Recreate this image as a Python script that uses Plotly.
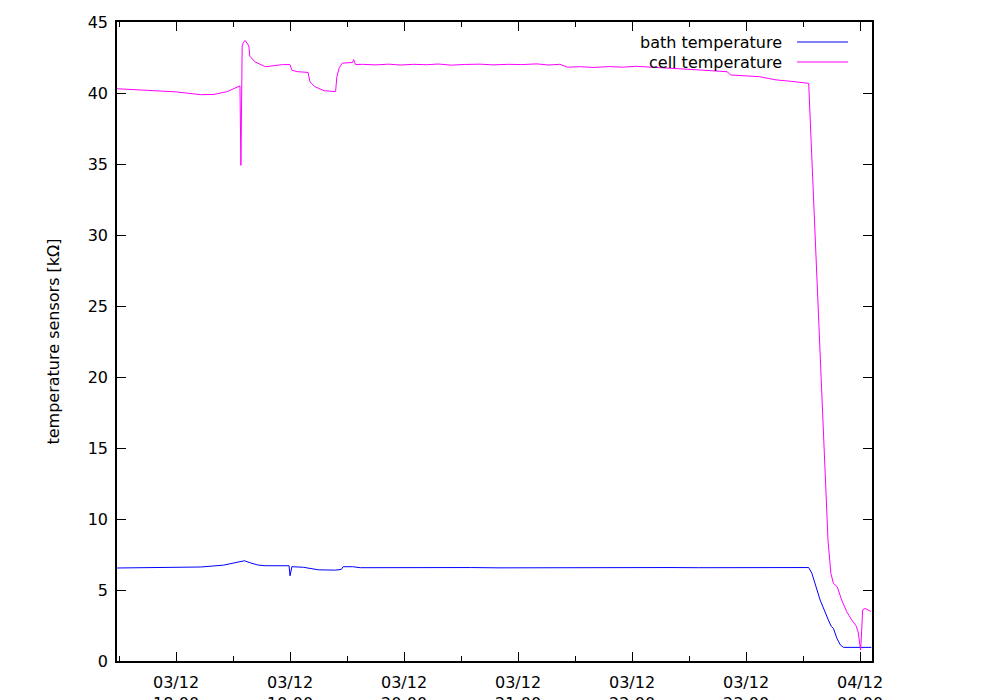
import pandas as pd
import plotly.graph_objects as go

# readings, 03/12 evening -> 04/12 just after midnight
DAY = "2012-12-03 "
NEXT = "2012-12-04 "

cell_time = [
    "17:29:00", "17:45:00", "18:00:00", "18:13:00", "18:20:00", "18:27:00",
    "18:33:00", "18:33:40", "18:34:10", "18:34:50", "18:35:30", "18:36:20",
    "18:37:40", "18:38:20", "18:38:50", "18:41:30", "18:47:00", "18:52:00",
    "18:56:00", "19:00:00", "19:01:00", "19:04:00", "19:07:00", "19:09:30",
    "19:10:30", "19:13:00", "19:18:00", "19:24:00", "19:24:40", "19:26:00",
    "19:27:30", "19:33:00", "19:33:30", "19:34:30", "19:38:00", "19:45:00",
    "19:52:00", "19:58:00", "20:05:00", "20:12:00", "20:18:00", "20:25:00",
    "20:32:00", "20:40:00", "20:47:00", "20:55:00", "21:02:00", "21:10:00",
    "21:16:00", "21:22:00", "21:26:00", "21:33:00", "21:40:00", "21:48:00",
    "21:55:00", "22:02:00", "22:06:00", "22:14:00", "22:22:00", "22:29:00",
    "22:36:00", "22:44:00", "22:50:00", "22:52:00", "23:00:00", "23:07:00",
    "23:12:00", "23:16:00", "23:24:00", "23:32:00", "23:33:00", "23:43:10",
    "23:44:40", "23:46:00", "23:47:00", "23:48:00", "23:50:20", "23:53:00",
    "23:55:40", "23:58:00", "23:59:00",
]
cell_time_next = ["00:00:20", "00:01:25", "00:02:40", "00:05:00", "00:05:50"]
cell_value = [
    40.30, 40.20, 40.08, 39.88, 39.90, 40.10,
    40.45, 40.50, 34.90, 43.30, 43.55, 43.70,
    43.45, 43.30, 42.60, 42.20, 41.85, 41.95,
    42.00, 42.00, 41.60, 41.50, 41.50, 41.45,
    40.80, 40.45, 40.16, 40.10, 41.15, 41.80,
    42.10, 42.15, 42.35, 42.00, 42.02, 41.98,
    42.03, 41.97, 42.02, 41.99, 42.04, 41.96,
    42.01, 42.03, 41.98, 42.02, 42.00, 42.05,
    41.97, 42.02, 41.82, 41.85, 41.80, 41.86,
    41.82, 41.88, 41.85, 41.80, 41.72, 41.67,
    41.62, 41.55, 41.50, 41.27, 41.22, 41.15,
    41.02, 40.92, 40.82, 40.72, 40.68, 8.50,
    6.18, 5.47, 5.35, 5.23, 4.30, 3.47,
    2.89, 2.46, 2.06,
    0.77, 3.60, 3.70, 3.54, 3.50,
]

bath_time = [
    "17:29:00", "18:00:00", "18:13:00", "18:25:00", "18:34:00", "18:36:00",
    "18:39:00", "18:43:00", "18:47:00", "18:58:00", "18:59:30", "19:00:00",
    "19:01:00", "19:07:00", "19:15:00", "19:24:00", "19:27:00", "19:28:00",
    "19:33:00", "19:37:00", "19:50:00", "20:05:00", "20:20:00", "20:35:00",
    "20:50:00", "21:05:00", "21:20:00", "21:35:00", "21:50:00", "22:05:00",
    "22:20:00", "22:35:00", "22:50:00", "23:05:00", "23:20:00", "23:33:00",
    "23:34:40", "23:39:00", "23:43:20", "23:44:50", "23:46:00", "23:47:50",
    "23:49:40", "23:51:20",
]
bath_time_next = ["00:06:00"]
bath_value = [
    6.55, 6.58, 6.62, 6.75, 7.00, 7.06,
    6.92, 6.76, 6.71, 6.71, 6.71, 6.00,
    6.64, 6.60, 6.42, 6.40, 6.45, 6.64,
    6.64, 6.57, 6.58, 6.56, 6.57, 6.58,
    6.56, 6.57, 6.58, 6.56, 6.57, 6.56,
    6.58, 6.57, 6.56, 6.57, 6.58, 6.58,
    6.18, 4.30, 2.89, 2.45, 2.30, 1.60,
    1.13, 0.96,
    0.96,
]

tick_vals = ["18:00", "19:00", "20:00", "21:00", "22:00", "23:00"]
tick_text = ["03/12<br>18:00", "03/12<br>19:00", "03/12<br>20:00", "03/12<br>21:00",
             "03/12<br>22:00", "03/12<br>23:00", "04/12<br>00:00"]

FONT = "DejaVu Sans"
BATH_COLOR = "#0000ff"
CELL_COLOR = "#ff00ff"

cell_x = pd.to_datetime([DAY + t for t in cell_time] + [NEXT + t for t in cell_time_next])
bath_x = pd.to_datetime([DAY + t for t in bath_time] + [NEXT + t for t in bath_time_next])
ticks = pd.to_datetime([DAY + t for t in tick_vals] + [NEXT + "00:00"])

fig = go.Figure()
fig.add_trace(go.Scatter(x=bath_x, y=bath_value, name="bath temperature",
                         mode="lines", line=dict(color=BATH_COLOR, width=1)))
fig.add_trace(go.Scatter(x=cell_x, y=cell_value, name="cell temperature",
                         mode="lines", line=dict(color=CELL_COLOR, width=1)))

axis_common = dict(
    showline=True, linecolor="black", linewidth=1.5, mirror="ticks",
    ticks="inside", ticklen=9, tickwidth=1.2, tickcolor="black",
    showgrid=False, zeroline=False, automargin=False,
    tickfont=dict(family=FONT, size=16, color="black"),
)

# the page body adds an 8px offset, so the figure is 8px smaller and margins shifted
fig.update_layout(
    width=992, height=692,
    margin=dict(l=109, r=128, t=14, b=39),
    paper_bgcolor="white", plot_bgcolor="white",
    showlegend=False,
    font=dict(family=FONT, size=16, color="black"),
    xaxis=dict(
        **axis_common,
        range=[DAY + "17:28:57", NEXT + "00:06:19"],
        tickvals=ticks, ticktext=tick_text, ticklabelstandoff=6,
        minor=dict(ticks="inside", ticklen=5, tickwidth=1.2, tickcolor="black",
                   dtick=30 * 60 * 1000, tick0=DAY + "17:30"),
    ),
    yaxis=dict(
        **axis_common,
        range=[0, 45], dtick=5, ticklabelstandoff=4,
        title=dict(text="temperature sensors [kΩ]", standoff=24,
                   font=dict(family=FONT, size=16, color="black")),
    ),
)

# gnuplot-style key: right aligned text, sample line to its right
for i, (label, color) in enumerate([("bath temperature", BATH_COLOR),
                                    ("cell temperature", CELL_COLOR)]):
    yk = 0.9687 - i * 0.0313
    fig.add_annotation(x=0.8834, y=yk, xref="paper", yref="paper",
                       text=label, showarrow=False, xanchor="right", yanchor="middle",
                       font=dict(family=FONT, size=16, color="black"))
    fig.add_shape(type="line", xref="paper", yref="paper",
                  x0=0.9007, x1=0.9682, y0=yk, y1=yk,
                  line=dict(color=color, width=1))

fig.write_html("out.html")
